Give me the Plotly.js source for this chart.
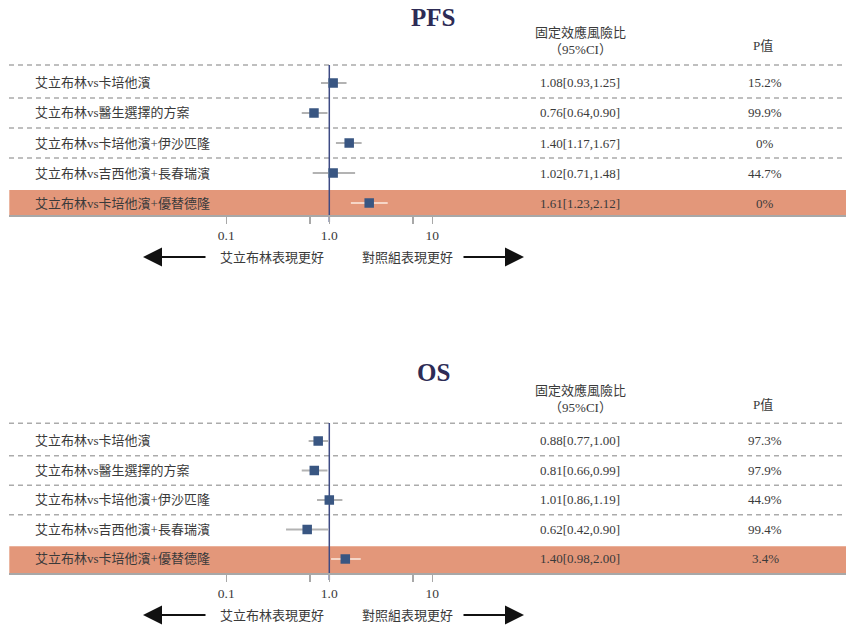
<!DOCTYPE html>
<html>
<head>
<meta charset="utf-8">
<script src="https://cdn.plot.ly/plotly-3.0.1.min.js"></script>
<style>html,body{margin:0;padding:0;background:#fff;}#chart{width:846px;height:628px;}</style>
</head>
<body>
<div id="chart"></div>
<script>
// ---------- data ----------
var comparisons = [
  "艾立布林vs卡培他濱",
  "艾立布林vs醫生選擇的方案",
  "艾立布林vs卡培他濱+伊沙匹隆",
  "艾立布林vs吉西他濱+長春瑞濱",
  "艾立布林vs卡培他濱+優替德隆"
];
var highlightRow = 4;

// PFS: reported text values
var pfsHrText = ["1.08[0.93,1.25]", "0.76[0.64,0.90]", "1.40[1.17,1.67]", "1.02[0.71,1.48]", "1.61[1.23,2.12]"];
var pfsPText  = ["15.2%", "99.9%", "0%", "44.7%", "0%"];
// PFS: positions as drawn in the picture (log scale)
var pfsPoint  = [1.09, 0.71, 1.56, 1.09, 2.44];
var pfsLow    = [0.83, 0.54, 1.16, 0.69, 1.62];
var pfsHigh   = [1.47, 0.96, 2.06, 1.78, 3.69];

// OS: reported text values
var osHrText = ["0.88[0.77,1.00]", "0.81[0.66,0.99]", "1.01[0.86,1.19]", "0.62[0.42,0.90]", "1.40[0.98,2.00]"];
var osPText  = ["97.3%", "97.9%", "44.9%", "99.4%", "3.4%"];
// OS: positions as drawn in the picture (log scale)
var osPoint  = [0.78, 0.715, 1.00, 0.61, 1.43];
var osLow    = [0.63, 0.54, 0.76, 0.38, 1.04];
var osHigh   = [0.98, 0.96, 1.34, 0.98, 2.02];

var tickVals = [0.1, 0.65, 1, 6.5, 10];
var tickText = ["0.1", "", "1.0", "", "10"];

var headerHr = "固定效應風險比<br>（95%CI）";
var headerP = "P值";
var leftLabel = "艾立布林表現更好";
var rightLabel = "對照組表現更好";

// ---------- layout helpers ----------
var W = 846, H = 628;
function px(x){ return x / W; }
function py(y){ return (H - y) / H; }
var SERIF = "'Liberation Serif', 'Noto Sans CJK TC', serif";
var TXT = "#3a3a3a";
var rows = comparisons.map(function(_, i){ return i; });

var panels = [
  {title:"PFS", xa:"x", ya:"y", point:pfsPoint, low:pfsLow, high:pfsHigh, hrText:pfsHrText, pText:pfsPText,
   off:0, titleOff:0, ppu:30, yBottom:4.4},
  {title:"OS", xa:"x2", ya:"y2", point:osPoint, low:osLow, high:osHigh, hrText:osHrText, pText:osPText,
   off:358, titleOff:355, ppu:29.5, yBottom:4.475}
];

var traces = [], shapes = [], annotations = [];
var layout = {
  width: W, height: H,
  margin: {l:0, r:0, t:0, b:0},
  paper_bgcolor: "#fff", plot_bgcolor: "rgba(0,0,0,0)",
  showlegend: false,
  font: {family: SERIF, color: TXT, size: 13}
};

panels.forEach(function(p, k){
  var sfx = k === 0 ? "" : "2";
  var axBottomPx = 215 + p.off, axTopPx = 50 + p.off;
  var yTop = p.yBottom - (axBottomPx - axTopPx) / p.ppu;
  layout["xaxis" + sfx] = {
    type: "log", domain: [px(9.3), 1],
    range: [(9.3 - 329.3) / 103, (846 - 329.3) / 103],
    anchor: "y" + sfx,
    tickvals: tickVals, ticktext: tickText,
    ticks: "outside", ticklen: 7, tickwidth: 1.5, tickcolor: "#a8a8a8",
    showline: true, linecolor: "#a8a8a8", linewidth: 1.5,
    showgrid: false, zeroline: false, fixedrange: true,
    tickfont: {family: SERIF, size: 13.5, color: TXT}
  };
  layout["yaxis" + sfx] = {
    domain: [py(axBottomPx), py(axTopPx)],
    range: [p.yBottom, yTop], anchor: "x" + sfx,
    showticklabels: false, showgrid: false, zeroline: false, showline: false,
    ticks: "", fixedrange: true
  };

  // highlight band
  shapes.push({type:"rect", xref:"paper", yref:p.ya, x0:px(9.3), x1:1,
    y0: highlightRow - 0.43, y1: p.yBottom, fillcolor:"#e3977a", line:{width:0}, layer:"below"});
  // dashed separators
  var seps = [-0.6, 0.5, 1.5, 2.5];
  seps.forEach(function(s){
    shapes.push({type:"line", xref:"paper", yref:p.ya, x0:px(9), x1:px(843), y0:s, y1:s,
      line:{color:"#ababab", width:1.5, dash:"5px,4px"}, layer:"below"});
  });
  // reference line at HR = 1
  shapes.push({type:"line", xref:p.xa, yref:"paper", x0:1, x1:1,
    y0: py(222 + p.off), y1: py(65 + p.off), line:{color:"#3e4b84", width:1.5}, layer:"below"});

  // points with CI
  var normal = rows.filter(function(i){ return i !== highlightRow; });
  [normal, [highlightRow]].forEach(function(idx, j){
    traces.push({
      type:"scatter", mode:"markers", xaxis:p.xa, yaxis:p.ya,
      x: idx.map(function(i){ return p.point[i]; }),
      y: idx,
      error_x: {type:"data", symmetric:false,
        array: idx.map(function(i){ return p.high[i] - p.point[i]; }),
        arrayminus: idx.map(function(i){ return p.point[i] - p.low[i]; }),
        color: j === 0 ? "#b3b3b3" : "#f6d6c7", thickness: 2, width: 0},
      marker: {symbol:"square", size:9.5, color:"#395682"},
      hoverinfo:"skip"
    });
  });

  // row texts
  rows.forEach(function(i){
    annotations.push({xref:"paper", yref:p.ya, x:px(33), y:i, xanchor:"left", yanchor:"middle",
      text: comparisons[i], showarrow:false, font:{family:SERIF, size:13, color:TXT}});
    annotations.push({xref:"paper", yref:p.ya, x:px(580), y:i, xanchor:"center", yanchor:"middle",
      text: p.hrText[i], showarrow:false, font:{family:SERIF, size:13, color:TXT}});
    annotations.push({xref:"paper", yref:p.ya, x:px(765), y:i, xanchor:"center", yanchor:"middle",
      text: p.pText[i], showarrow:false, font:{family:SERIF, size:13, color:TXT}});
  });

  // title & headers
  annotations.push({xref:"paper", yref:"paper", x:px(433), y:py(18 + p.titleOff), xanchor:"center", yanchor:"middle",
    text:"<b>" + p.title + "</b>", showarrow:false, font:{family:SERIF, size:25, color:"#2d2b55"}});
  annotations.push({xref:"paper", yref:"paper", x:px(580), y:py(40.5 + p.off), xanchor:"center", yanchor:"middle",
    text: headerHr, showarrow:false, font:{family:SERIF, size:13, color:TXT}});
  annotations.push({xref:"paper", yref:"paper", x:px(763), y:py(46 + p.off), xanchor:"center", yanchor:"middle",
    text: headerP, showarrow:false, font:{family:SERIF, size:13, color:TXT}});

  // direction labels & arrows
  var ay = py(257 + p.off);
  annotations.push({xref:"paper", yref:"paper", x:px(272), y:ay, xanchor:"center", yanchor:"middle",
    text: leftLabel, showarrow:false, font:{family:SERIF, size:13, color:TXT}});
  annotations.push({xref:"paper", yref:"paper", x:px(407), y:ay, xanchor:"center", yanchor:"middle",
    text: rightLabel, showarrow:false, font:{family:SERIF, size:13, color:TXT}});
  annotations.push({xref:"paper", yref:"paper", x:px(143), y:ay, text:"", showarrow:true,
    axref:"pixel", ayref:"pixel", ax:64, ay:0, arrowhead:2, arrowsize:1.9, arrowwidth:2, arrowcolor:"#111"});
  annotations.push({xref:"paper", yref:"paper", x:px(524), y:ay, text:"", showarrow:true,
    axref:"pixel", ayref:"pixel", ax:-62, ay:0, arrowhead:2, arrowsize:1.9, arrowwidth:2, arrowcolor:"#111"});
});

layout.shapes = shapes;
layout.annotations = annotations;

Plotly.newPlot("chart", traces, layout, {displayModeBar:false, staticPlot:true});
</script>
</body>
</html>
